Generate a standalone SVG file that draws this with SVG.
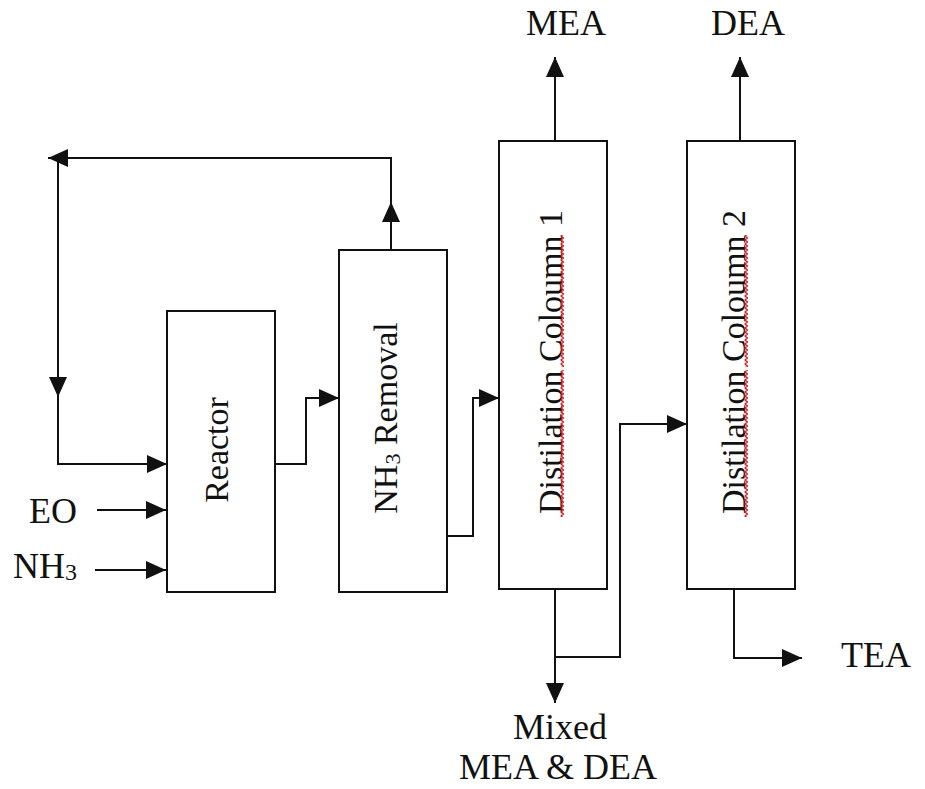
<svg xmlns="http://www.w3.org/2000/svg" width="925" height="789" viewBox="0 0 925 789">
<style>
  .box { fill: #fff; stroke: #111; stroke-width: 2; }
  .lbl { font-family: "Liberation Serif", "Times New Roman", serif; font-size: 34px; fill: #111; }
  .hl { font-size: 36px; }
  .con { fill: none; stroke: #111; stroke-width: 2; }
  .arr { marker-end: url(#ah); }
  .sq { fill: url(#squig); }
</style>
<defs>
  <marker id="ah" markerUnits="userSpaceOnUse" markerWidth="20" markerHeight="18" refX="20" refY="9" orient="auto">
    <path d="M0,0 L20,9 L0,18 Z" fill="#111"/>
  </marker>
  <pattern id="squig" patternUnits="userSpaceOnUse" width="4" height="4">
    <path d="M0.8,0 L3.4,2 L0.8,4" fill="none" stroke="#e01818" stroke-width="1.4"/>
  </pattern>
</defs>
<rect width="925" height="789" fill="#fff"/>

<g id="connectors">
  <path class="con arr" d="M391,250 V202"/>
  <path class="con arr" d="M391,202 V158 H48"/>
  <path class="con arr" d="M58,158 V397"/>
  <path class="con arr" d="M58,397 V464 H167"/>
  <path class="con arr" d="M97,510 H166"/>
  <path class="con arr" d="M95,570 H166"/>
  <path class="con arr" d="M275,464 H306 V398 H339"/>
  <path class="con arr" d="M447,536 H473 V398 H499"/>
  <path class="con arr" d="M555,141 V57"/>
  <path class="con arr" d="M555,589 V703"/>
  <path class="con arr" d="M555,657 H620 V424 H687"/>
  <path class="con arr" d="M740,141 V57"/>
  <path class="con arr" d="M734,589 V658 H802"/>
</g>

<g id="reactor">
  <rect class="box" x="167" y="311" width="108" height="281"/>
  <text class="lbl" text-anchor="middle" transform="translate(228,450) rotate(-90)">Reactor</text>
</g>

<g id="nh3-removal">
  <rect class="box" x="339" y="250" width="108" height="342"/>
  <text class="lbl" text-anchor="middle" transform="translate(397,418) rotate(-90)">NH<tspan font-size="22" dy="3">3</tspan><tspan dy="-3"> Removal</tspan></text>
</g>

<g id="distillation-1">
  <rect class="box" x="499" y="141" width="108" height="448"/>
  <text class="lbl" text-anchor="middle" transform="translate(562,362) rotate(-90)">Distilation Coloumn 1</text>
  <rect class="sq" x="560" y="370" width="4" height="147"/>
  <rect class="sq" x="560" y="235" width="4" height="132"/>
</g>

<g id="distillation-2">
  <rect class="box" x="687" y="141" width="108" height="448"/>
  <text class="lbl" text-anchor="middle" transform="translate(745,362) rotate(-90)">Distilation Coloumn 2</text>
  <rect class="sq" x="744" y="370" width="4" height="147"/>
  <rect class="sq" x="744" y="235" width="4" height="132"/>
</g>

<g id="label-eo"><text class="lbl hl" x="29" y="523">EO</text></g>
<g id="label-nh3"><text class="lbl hl" x="13" y="578">NH<tspan font-size="24" dy="2">3</tspan></text></g>
<g id="label-mea"><text class="lbl hl" text-anchor="middle" x="566" y="35">MEA</text></g>
<g id="label-dea"><text class="lbl hl" text-anchor="middle" x="748" y="35">DEA</text></g>
<g id="label-tea"><text class="lbl hl" x="841" y="667">TEA</text></g>
<g id="label-mixed">
  <text class="lbl hl" text-anchor="middle" x="560" y="739">Mixed</text>
  <text class="lbl hl" text-anchor="middle" x="558" y="779">MEA &amp; DEA</text>
</g>
</svg>
